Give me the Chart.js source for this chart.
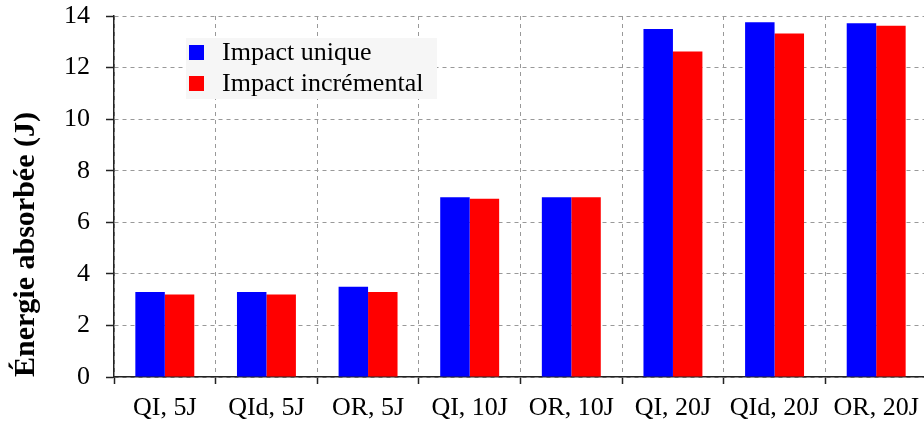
<!DOCTYPE html>
<html>
<head>
<meta charset="utf-8">
<script src="https://cdn.jsdelivr.net/npm/chart.js@4/dist/chart.umd.min.js"></script>
<style>
  html, body { margin: 0; padding: 0; background: #fff; overflow: hidden; }
  #wrap { width: 930px; height: 425px; position: relative; }
</style>
</head>
<body>
<div id="wrap"><canvas id="chart"></canvas></div>
<script>
const categories = ["QI, 5J", "QId, 5J", "OR, 5J", "QI, 10J", "OR, 10J", "QI, 20J", "QId, 20J", "OR, 20J"];
const impactUnique = [3.3, 3.3, 3.5, 6.97, 6.97, 13.5, 13.76, 13.72];
const impactIncremental = [3.2, 3.2, 3.3, 6.91, 6.97, 12.62, 13.32, 13.62];
const yTicks = [0, 2, 4, 6, 8, 10, 12, 14];

const serif = "'Liberation Serif', 'Times New Roman', serif";

// legend drawn inside the plot, with a light grey box behind it
const boxLegend = {
    id: "boxLegend",
    afterDatasetsDraw(chart) {
        const ctx = chart.ctx;
        ctx.save();
        ctx.fillStyle = "#f6f6f6";
        ctx.fillRect(186, 38, 251, 61);
        chart.data.datasets.forEach((ds, i) => {
            const y = 45 + i * 31;
            ctx.fillStyle = ds.backgroundColor;
            ctx.fillRect(189, y, 15, 15);
            ctx.fillStyle = "#000";
            ctx.font = "26px " + serif;
            ctx.textBaseline = "middle";
            ctx.fillText(ds.label, 222, y + 8);
        });
        ctx.restore();
    }
};

new Chart(document.getElementById("chart"), {
    type: "bar",
    data: {
        labels: categories,
        datasets: [
            {
                label: "Impact unique",
                data: impactUnique,
                backgroundColor: "#0000ff",
                categoryPercentage: 0.58,
                barPercentage: 1.0
            },
            {
                label: "Impact incrémental",
                data: impactIncremental,
                backgroundColor: "#ff0000",
                categoryPercentage: 0.58,
                barPercentage: 1.0
            }
        ]
    },
    options: {
        responsive: true,
        maintainAspectRatio: false,
        animation: false,
        layout: { padding: { top: 16, left: 0, right: 3, bottom: 0 } },
        plugins: {
            legend: { display: false },
            tooltip: { enabled: false }
        },
        scales: {
            x: {
                grid: {
                    offset: true,
                    color: "#999",
                    tickLength: 7,
                    tickColor: "#222",
                    tickBorderDash: [],
                    tickWidth: 1.5
                },
                border: { color: "#222", width: 1.5, dash: [4, 4] },
                ticks: {
                    color: "#000",
                    padding: 9,
                    maxRotation: 0,
                    font: { family: serif, size: 26 }
                },
                afterFit(scale) { scale.height = 48; }
            },
            y: {
                min: 0,
                max: 14,
                afterBuildTicks(scale) {
                    scale.ticks = yTicks.map(v => ({ value: v }));
                },
                grid: {
                    color: "#999",
                    tickLength: 8,
                    tickColor: "#222",
                    tickBorderDash: [],
                    tickWidth: 1.5
                },
                border: { color: "#222", width: 1.5, dash: [4, 4] },
                ticks: {
                    color: "#000",
                    padding: 16,
                    font: { family: serif, size: 26 }
                },
                title: {
                    display: true,
                    text: "Énergie absorbée (J)",
                    color: "#000",
                    align: "start",
                    padding: { top: 8, bottom: 0 },
                    font: { family: serif, size: 30, weight: "bold" }
                },
                afterFit(scale) {
                    scale.width = 114;
                    scale.paddingTop = 8;
                    scale.paddingBottom = 8;
                }
            }
        }
    },
    plugins: [boxLegend]
});
</script>
</body>
</html>
